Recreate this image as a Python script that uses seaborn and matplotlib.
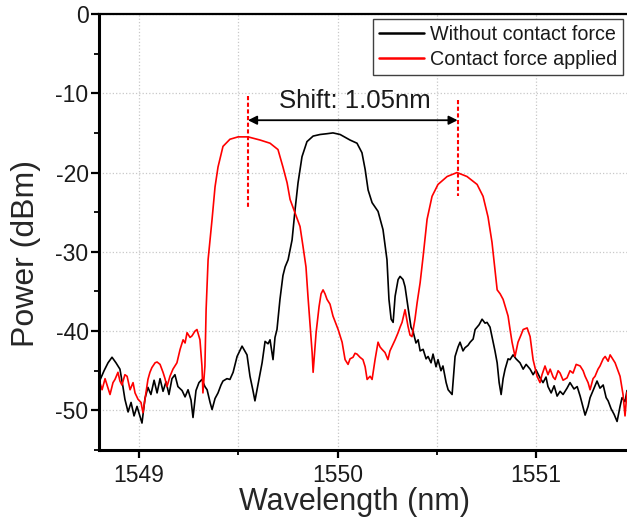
import numpy as np
import pandas as pd
import matplotlib
matplotlib.use("Agg")
import matplotlib.pyplot as plt
from matplotlib.ticker import MultipleLocator
from matplotlib.lines import Line2D
import seaborn as sns

# ---------------- data ----------------
series_names = ["Without contact force", "Contact force applied"]
series_colors = ["#000000", "#ff0000"]

wl_black = [
    1548.798, 1548.824, 1548.844, 1548.864, 1548.884, 1548.904, 1548.919, 1548.929, 1548.945, 1548.960,
    1548.975, 1548.990, 1549.015, 1549.030, 1549.045, 1549.060, 1549.076, 1549.091, 1549.106, 1549.121,
    1549.136, 1549.151, 1549.166, 1549.181, 1549.196, 1549.217, 1549.232, 1549.247, 1549.262, 1549.272,
    1549.287, 1549.302, 1549.317, 1549.332, 1549.343, 1549.358, 1549.368, 1549.383, 1549.398, 1549.413,
    1549.423, 1549.443, 1549.458, 1549.474, 1549.494, 1549.519, 1549.544, 1549.559, 1549.574, 1549.584,
    1549.599, 1549.620, 1549.635, 1549.650, 1549.660, 1549.675, 1549.685, 1549.695, 1549.710, 1549.725,
    1549.736, 1549.751, 1549.771, 1549.786, 1549.801, 1549.821, 1549.846, 1549.877, 1549.912, 1549.947,
    1549.977, 1550.013, 1550.063, 1550.098, 1550.123, 1550.139, 1550.154, 1550.174, 1550.204, 1550.229,
    1550.249, 1550.259, 1550.270, 1550.280, 1550.290, 1550.305, 1550.315, 1550.330, 1550.340, 1550.355,
    1550.370, 1550.380, 1550.395, 1550.406, 1550.416, 1550.431, 1550.446, 1550.456, 1550.471, 1550.481,
    1550.496, 1550.506, 1550.521, 1550.531, 1550.547, 1550.557, 1550.577, 1550.592, 1550.607, 1550.617,
    1550.632, 1550.642, 1550.657, 1550.668, 1550.683, 1550.693, 1550.713, 1550.728, 1550.743, 1550.753,
    1550.768, 1550.778, 1550.793, 1550.804, 1550.814, 1550.824, 1550.834, 1550.844, 1550.859, 1550.869,
    1550.884, 1550.899, 1550.919, 1550.935, 1550.950, 1550.970, 1550.985, 1551.000, 1551.020, 1551.035,
    1551.050, 1551.060, 1551.076, 1551.091, 1551.106, 1551.121, 1551.136, 1551.156, 1551.171, 1551.191,
    1551.207, 1551.222, 1551.247, 1551.262, 1551.272, 1551.292, 1551.307, 1551.322, 1551.338, 1551.353,
    1551.363, 1551.378, 1551.393, 1551.408, 1551.423, 1551.433, 1551.448, 1551.458,
]
power_black = [
    -46.5, -45.0, -44.0, -43.3, -44.0, -44.8, -47.0, -48.6, -50.2, -49.0,
    -50.7, -49.5, -51.6, -48.5, -47.1, -48.0, -46.2, -47.8, -46.0, -47.6,
    -46.4, -48.0, -46.0, -45.5, -47.0, -47.5, -48.3, -47.4, -48.7, -50.9,
    -47.5, -46.5, -46.1, -47.0, -47.4, -49.0, -49.9, -48.5, -47.8, -46.8,
    -46.3, -46.0, -46.1, -45.2, -43.2, -41.9, -43.0, -45.7, -47.5, -48.8,
    -46.8, -44.0, -41.3, -41.6, -41.1, -43.6, -40.8, -39.8, -36.0, -33.0,
    -31.9, -31.0, -28.5, -24.7, -21.3, -18.0, -16.1, -15.4, -15.2, -15.1,
    -15.0, -15.2, -15.9, -16.3, -17.5, -19.6, -22.2, -23.8, -24.9, -27.2,
    -31.0, -36.0, -38.5, -38.9, -35.6, -33.5, -33.1, -33.5, -34.4, -37.0,
    -39.5, -40.0, -41.5, -41.1, -42.5, -42.3, -43.5, -43.2, -44.0, -42.9,
    -44.5, -43.6, -45.0, -44.4, -46.5, -47.4, -48.0, -43.2, -42.0, -41.4,
    -42.5, -42.1, -41.8, -41.4, -41.0, -39.8, -39.2, -38.5, -39.0, -38.9,
    -39.5, -40.7, -42.5, -44.0, -46.5, -48.0, -46.0, -44.8, -43.5, -43.6,
    -43.0, -43.5, -44.0, -44.8, -44.2, -44.8, -45.5, -44.9, -45.9, -46.5,
    -45.8, -47.0, -47.8, -46.9, -48.2, -47.6, -48.0, -47.2, -46.5, -47.3,
    -47.0, -48.2, -50.6, -49.5, -48.4, -47.2, -46.3, -47.2, -46.8, -48.4,
    -48.8, -49.8, -50.5, -51.4, -49.5, -48.4, -48.9, -47.5,
]

wl_red = [
    1548.798, 1548.814, 1548.829, 1548.839, 1548.854, 1548.869, 1548.879, 1548.894, 1548.904, 1548.914,
    1548.929, 1548.940, 1548.955, 1548.970, 1548.980, 1548.995, 1549.010, 1549.020, 1549.030, 1549.045,
    1549.055, 1549.065, 1549.081, 1549.091, 1549.106, 1549.121, 1549.131, 1549.141, 1549.156, 1549.171,
    1549.191, 1549.207, 1549.222, 1549.232, 1549.242, 1549.257, 1549.267, 1549.282, 1549.292, 1549.307,
    1549.317, 1549.322, 1549.332, 1549.338, 1549.348, 1549.368, 1549.383, 1549.398, 1549.423, 1549.458,
    1549.499, 1549.549, 1549.610, 1549.660, 1549.700, 1549.725, 1549.746, 1549.761, 1549.786, 1549.811,
    1549.826, 1549.841, 1549.851, 1549.861, 1549.872, 1549.877, 1549.892, 1549.907, 1549.917, 1549.927,
    1549.937, 1549.947, 1549.962, 1549.977, 1550.003, 1550.023, 1550.038, 1550.053, 1550.063, 1550.078,
    1550.088, 1550.098, 1550.113, 1550.128, 1550.139, 1550.149, 1550.164, 1550.174, 1550.189, 1550.204,
    1550.214, 1550.224, 1550.239, 1550.254, 1550.264, 1550.275, 1550.290, 1550.305, 1550.315, 1550.325,
    1550.340, 1550.355, 1550.365, 1550.375, 1550.390, 1550.401, 1550.416, 1550.431, 1550.451, 1550.476,
    1550.506, 1550.552, 1550.602, 1550.652, 1550.703, 1550.733, 1550.758, 1550.778, 1550.793, 1550.804,
    1550.819, 1550.834, 1550.859, 1550.869, 1550.879, 1550.894, 1550.909, 1550.924, 1550.935, 1550.955,
    1550.970, 1550.985, 1551.005, 1551.020, 1551.030, 1551.045, 1551.060, 1551.071, 1551.086, 1551.096,
    1551.111, 1551.121, 1551.136, 1551.156, 1551.171, 1551.186, 1551.202, 1551.222, 1551.237, 1551.247,
    1551.262, 1551.272, 1551.287, 1551.297, 1551.312, 1551.322, 1551.338, 1551.348, 1551.363, 1551.373,
    1551.388, 1551.398, 1551.413, 1551.423, 1551.438, 1551.448, 1551.458,
]
power_red = [
    -46.1, -47.4, -46.0, -46.8, -48.0, -46.5, -46.1, -45.2, -46.3, -46.8,
    -45.5, -45.7, -47.4, -46.5, -47.8, -48.6, -49.0, -50.3, -48.6, -46.1,
    -45.2, -44.6, -44.0, -43.9, -44.2, -45.2, -46.0, -47.0, -45.7, -44.8,
    -44.0, -42.3, -41.1, -41.5, -40.2, -40.8, -40.6, -40.0, -39.8, -41.1,
    -44.4, -47.8, -44.4, -37.3, -31.0, -25.9, -21.8, -19.3, -16.7, -15.8,
    -15.5, -15.5, -15.9, -16.3, -17.1, -19.3, -21.3, -23.4, -25.1, -26.8,
    -29.3, -31.9, -35.6, -39.0, -42.7, -45.2, -40.2, -36.9, -35.3, -34.8,
    -35.3, -36.0, -36.6, -38.1, -39.8, -41.4, -43.6, -44.2, -43.5, -43.3,
    -42.8, -42.9, -43.3, -43.6, -44.5, -46.1, -45.7, -46.1, -43.6, -41.4,
    -42.0, -42.3, -42.7, -43.6, -42.5, -41.9, -41.1, -40.2, -39.5, -38.9,
    -37.3, -39.4, -40.5, -40.7, -38.5, -36.4, -33.9, -30.6, -25.9, -23.0,
    -21.5, -20.5, -20.0, -20.5, -21.5, -23.0, -25.6, -28.8, -32.2, -34.8,
    -35.3, -36.0, -38.1, -39.8, -41.4, -43.2, -41.4, -40.5, -39.8, -39.6,
    -40.7, -43.6, -45.7, -46.5, -45.5, -44.4, -45.5, -44.8, -45.8, -46.1,
    -45.0, -45.3, -46.2, -45.9, -45.0, -45.3, -44.2, -44.4, -45.0, -45.7,
    -46.5, -47.4, -46.0, -45.7, -44.8, -44.4, -43.5, -43.2, -43.8, -43.0,
    -43.6, -44.0, -45.0, -45.7, -48.0, -50.7, -47.7,
]

peak_left = 1549.549    # peak of "Contact force applied" (left lobe)
peak_right = 1550.605   # peak of "Contact force applied" (right lobe)
shift_label = "Shift: 1.05nm"

x_major_ticks = [1549, 1550, 1551]

# ---------------- build table ----------------
df = pd.concat([
    pd.DataFrame({"Wavelength": wl_black, "Power": power_black, "series": series_names[0]}),
    pd.DataFrame({"Wavelength": wl_red, "Power": power_red, "series": series_names[1]}),
], ignore_index=True)
palette = dict(zip(series_names, series_colors))

# ---------------- style ----------------
sns.set_theme(style="white")
plt.rcParams["font.family"] = ["Liberation Sans", "DejaVu Sans"]
plt.rcParams["axes.unicode_minus"] = False

fig = plt.figure(figsize=(6.27, 5.26), dpi=100)
ax = fig.add_axes([99 / 627, 1 - 450 / 526, 1 - 99 / 627, (450 - 14) / 526])

sns.lineplot(data=df, x="Wavelength", y="Power", hue="series", hue_order=series_names,
             palette=palette, estimator=None, sort=False, linewidth=1.2,
             legend=False, ax=ax)

ax.set_xlim(1548.7985, 1551.458)
ax.set_ylim(-55, 0)

ax.xaxis.set_major_locator(MultipleLocator(1))
ax.xaxis.set_minor_locator(MultipleLocator(0.5))
ax.yaxis.set_major_locator(MultipleLocator(10))
ax.yaxis.set_minor_locator(MultipleLocator(5))
ax.set_xticks(x_major_ticks)
ax.set_xticklabels([str(t) for t in x_major_ticks])

ax.set_axisbelow(True)
ax.grid(which="both", axis="x", color="#c8c8c8", linestyle=":", linewidth=0.9)
ax.grid(which="major", axis="y", color="#c8c8c8", linestyle=":", linewidth=0.9)

for side in ["left", "bottom"]:
    ax.spines[side].set_linewidth(2.2)
    ax.spines[side].set_color("black")
ax.spines["top"].set_linewidth(1.6)
ax.spines["top"].set_color("black")
ax.spines["right"].set_visible(False)

ax.tick_params(axis="both", which="major", direction="out", length=6, width=1.6,
               color="black", labelsize=16.5, labelcolor="#1a1a1a",
               bottom=True, left=True)
ax.tick_params(axis="x", which="major", pad=4.0)
ax.tick_params(axis="y", which="major", pad=1.5)
ax.tick_params(axis="both", which="minor", direction="out", length=3.5, width=1.3,
               color="black", bottom=True, left=True)

ax.set_xlabel("Wavelength (nm)", fontsize=22)
ax.set_ylabel("Power (dBm)", fontsize=23)
ax.xaxis.set_label_coords(0.483, -0.085)
ax.yaxis.set_label_coords(-0.110, 0.45)

# annotation: dashed peak markers, arrow and label
ax.plot([peak_left, peak_left], [-10.4, -24.3], color="#ff0000", linestyle=(0, (2.0, 1.2)), linewidth=1.5)
ax.plot([peak_right, peak_right], [-10.8, -23.0], color="#ff0000", linestyle=(0, (2.0, 1.2)), linewidth=1.5)
ax.annotate("", xy=(peak_left, -13.4), xytext=(peak_right, -13.4),
            arrowprops=dict(arrowstyle="<|-|>", color="black", lw=1.3,
                            mutation_scale=13, shrinkA=0, shrinkB=0))
ax.text((peak_left + peak_right) / 2 + 0.009, -11.85, shift_label, ha="center", va="baseline",
        fontsize=18.5, color="#1a1a1a")

handles = [Line2D([], [], color=c, linewidth=1.8) for c in series_colors]
leg = ax.legend(handles, series_names, loc="upper right", bbox_to_anchor=(0.9924, 0.9885),
                borderaxespad=0, fontsize=14.2, frameon=True, fancybox=False,
                edgecolor="#404040", framealpha=1, handlelength=2.3, handletextpad=0.3,
                borderpad=0.3, labelspacing=0.3)
leg.get_frame().set_linewidth(1.0)
for t in leg.get_texts():
    t.set_color("#1a1a1a")

fig.savefig("out.png", dpi=100)
